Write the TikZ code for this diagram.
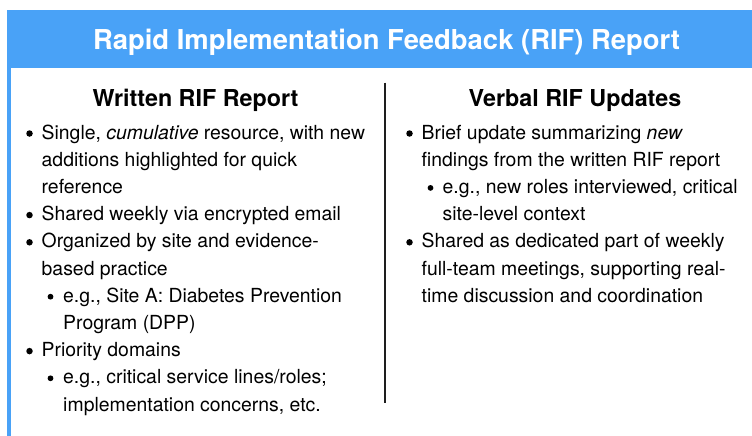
\documentclass[tikz,border=0pt]{standalone}
\usepackage{fontspec}
\setmainfont{TeX Gyre Heros}
\definecolor{rifblue}{RGB}{73,162,247}
\definecolor{rulegray}{RGB}{30,30,30}

\tikzset{
	titletxt/.style={font=\bfseries\fontsize{27.4}{30}\selectfont, text=white, inner sep=0, anchor=base},
	headtxt/.style={font=\bfseries\fontsize{23.3}{26}\selectfont, inner sep=0, anchor=base},
	itemtxt/.style={font=\fontsize{19.4}{27.2}\selectfont, inner sep=0, anchor=base west},
	dot/.style={circle, fill=black, inner sep=0, minimum size=6.5pt},
	subdot/.style={circle, fill=black, inner sep=0, minimum size=5.8pt}
}

\begin{document}
\begin{tikzpicture}[x=1pt, y=-1pt]
	\useasboundingbox (0,0) rectangle (752,436);
	
	% frame
	\fill[rifblue] (7.3,10) rectangle (752,68.3);
	\fill[rifblue] (7.3,68) rectangle (11,436);
	\node[titletxt] (title) at (386.5,49) {Rapid Implementation Feedback (RIF) Report};
	
	% divider
	\coordinate (divtop) at (384.5,82.5);
	\coordinate (divbot) at (384.5,403);
	\draw[rulegray, line width=2pt] (divtop) -- (divbot);
	
	% left column
	\node[headtxt] (lhead) at (195.5,106) {Written RIF Report};
	\node[dot] (lb1) at (29.5,133.5) {};
	\node[itemtxt] (l1) at (41.5,139) {Single, {\itshape cumulative} resource, with new};
	\node[itemtxt] (l2) at (41.5,166.2) {additions highlighted for quick};
	\node[itemtxt] (l3) at (41.5,193.4) {reference};
	\node[dot] (lb2) at (29.5,215.1) {};
	\node[itemtxt] (l4) at (41.5,220.6) {Shared weekly via encrypted email};
	\node[dot] (lb3) at (29.5,242.3) {};
	\node[itemtxt] (l5) at (41.5,247.8) {Organized by site and evidence-};
	\node[itemtxt] (l6) at (41.5,275.0) {based practice};
	\node[subdot] (ls1) at (50.5,296.7) {};
	\node[itemtxt] (l7) at (63,302.2) {e.g., Site A: Diabetes Prevention};
	\node[itemtxt] (l8) at (63,329.4) {Program (DPP)};
	\node[dot] (lb4) at (29.5,351.1) {};
	\node[itemtxt] (l9) at (41.5,356.6) {Priority domains};
	\node[subdot] (ls2) at (50.5,378.3) {};
	\node[itemtxt] (l10) at (63,383.8) {e.g., critical service lines/roles;};
	\node[itemtxt] (l11) at (63,411.0) {implementation concerns, etc.};
	
	% right column
	\node[headtxt] (rhead) at (575,106) {Verbal RIF Updates};
	\node[dot] (rb1) at (409.5,133.5) {};
	\node[itemtxt] (r1) at (421.5,139) {Brief update summarizing {\itshape new}};
	\node[itemtxt] (r2) at (421.5,166.2) {findings from the written RIF report};
	\node[subdot] (rs1) at (430.5,187.9) {};
	\node[itemtxt] (r3) at (442.5,193.4) {e.g., new roles interviewed, critical};
	\node[itemtxt] (r4) at (442.5,220.6) {site-level context};
	\node[dot] (rb2) at (409.5,242.3) {};
	\node[itemtxt] (r5) at (421.5,247.8) {Shared as dedicated part of weekly};
	\node[itemtxt] (r6) at (421.5,275.0) {full-team meetings, supporting real-};
	\node[itemtxt] (r7) at (421.5,302.2) {time discussion and coordination};
\end{tikzpicture}
\end{document}
